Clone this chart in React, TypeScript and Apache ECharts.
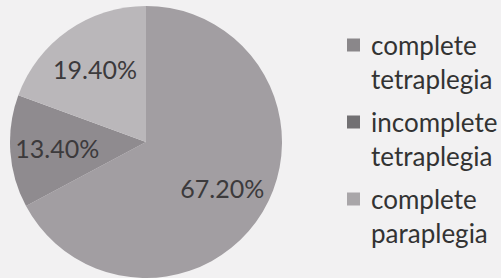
import React, { useEffect, useRef } from "react";
import * as echarts from "echarts";

const categories = ["complete\ntetraplegia", "incomplete\ntetraplegia", "complete\nparaplegia"];
const values = [67.2, 13.4, 19.4];
const sliceColors = ["#a29ea2", "#8f8b8f", "#bab7ba"];
const legendColors = ["#8a878a", "#727073", "#a9a6a9"];

export default function App() {
  const ref = useRef<HTMLDivElement>(null);
  useEffect(() => {
    if (!ref.current) return;
    const chart = echarts.init(ref.current, null, { renderer: "svg" });
    const data = categories.map((name, i) => ({
      name,
      value: values[i],
      itemStyle: { color: sliceColors[i] },
    }));
    chart.setOption({
      animation: false,
      backgroundColor: "#f2f1f2",
      legend: {
        orient: "vertical",
        left: 347,
        top: 28,
        padding: 0,
        itemGap: 9,
        itemWidth: 13,
        itemHeight: 47,
        icon: "path://M0,0h13v13h-13z M0,46.9h0.05v0.1h-0.05z",
        data: categories.map((name, i) => ({ name, itemStyle: { color: legendColors[i] } })),
        textStyle: {
          fontFamily: "Lato",
          fontSize: 26,
          lineHeight: 34,
          color: "#333333",
          padding: [0, 0, 0, 6],
        },
      },
      series: [
        {
          type: "pie",
          center: [146, 142],
          radius: [0, 136],
          startAngle: 90,
          clockwise: true,
          silent: true,
          label: { show: false },
          labelLine: { show: false },
          data,
        },
        {
          type: "pie",
          center: [146, 142],
          radius: [72, 100],
          startAngle: 90,
          clockwise: true,
          silent: true,
          itemStyle: { color: "rgba(0,0,0,0)" },
          label: {
            show: true,
            position: "inside",
            fontFamily: "Lato",
            fontSize: 25,
            color: "#3c3a3c",
            formatter: (p: any) => p.value.toFixed(2) + "%",
          },
          labelLine: { show: false },
          data: categories.map((name, i) => ({ name, value: values[i] })),
        },
      ],
    });
    return () => chart.dispose();
  }, []);
  return (
    <div
      ref={ref}
      style={{ position: "fixed", left: 0, top: 0, width: 501, height: 278 }}
    />
  );
}
